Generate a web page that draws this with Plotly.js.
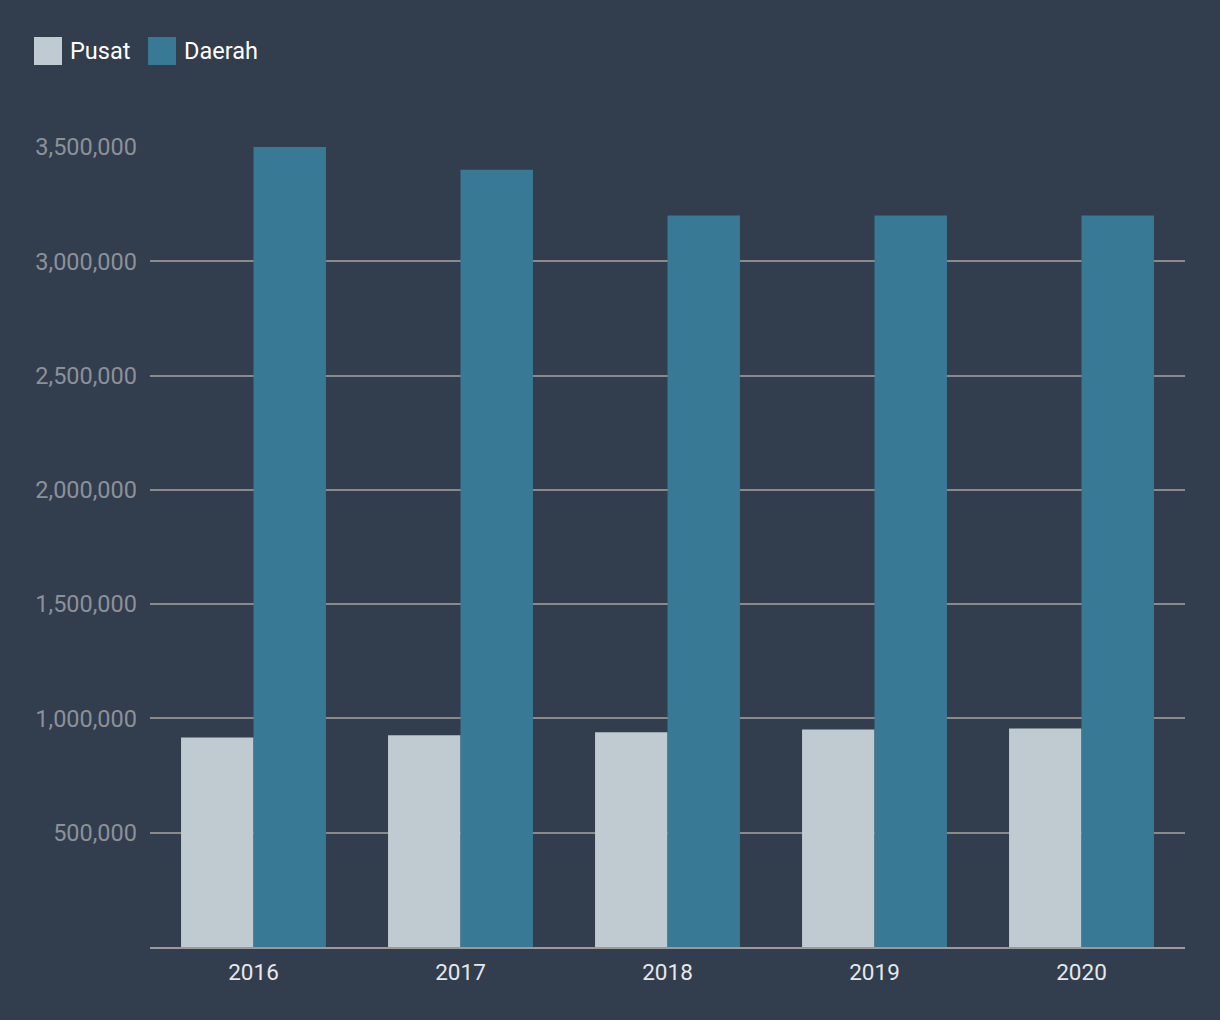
<!DOCTYPE html>
<html>
<head>
<meta charset="utf-8">
<script src="https://cdn.plot.ly/plotly-3.0.1.min.js"></script>
<style>
  html, body { margin: 0; padding: 0; background: #323d4e; }
  #chart { width: 1220px; height: 1020px; }
</style>
</head>
<body>
<div id="chart"></div>
<script>
const years = ['2016', '2017', '2018', '2019', '2020'];
const pusat = [917000, 926000, 939000, 952000, 956000];
const daerah = [3500000, 3400000, 3200000, 3200000, 3200000];
const seriesNames = ['Pusat', 'Daerah'];
const seriesColors = ['#bfcbd0', '#387a95'];
const yTicks = [500000, 1000000, 1500000, 2000000, 2500000, 3000000, 3500000];

const traces = [
  { type: 'bar', name: seriesNames[0], x: years, y: pusat, marker: { color: seriesColors[0] }, showlegend: false, hoverinfo: 'x+y+name' },
  { type: 'bar', name: seriesNames[1], x: years, y: daerah, marker: { color: seriesColors[1] }, showlegend: false, hoverinfo: 'x+y+name' }
];

const layout = {
  width: 1220,
  height: 1020,
  paper_bgcolor: '#323d4e',
  plot_bgcolor: '#323d4e',
  font: { family: 'Roboto, sans-serif', size: 22, color: '#ffffff' },
  margin: { l: 150, r: 35, t: 147, b: 73 },
  barmode: 'group',
  bargap: 0.3,
  bargroupgap: 0,
  xaxis: {
    type: 'category',
    tickfont: { size: 22.5, color: '#e6e8ea' },
    showgrid: false,
    showline: true,
    linecolor: '#9a9a9a',
    linewidth: 2,
    ticks: '',
    ticklen: 0,
    ticklabelstandoff: 4,
    fixedrange: true
  },
  yaxis: {
    range: [0, 3500000],
    tickvals: yTicks,
    tickformat: ',d',
    tickfont: { size: 23.5, color: '#8c9199' },
    showgrid: true,
    gridcolor: '#8a8a8a',
    gridwidth: 1.5,
    zeroline: false,
    showline: false,
    ticks: '',
    ticklabelstandoff: 12,
    fixedrange: true
  },
  shapes: [
    { type: 'rect', xref: 'paper', yref: 'paper', x0: -0.1121, x1: -0.0850, y0: 1.1025, y1: 1.1375, fillcolor: seriesColors[0], line: { width: 0 } },
    { type: 'rect', xref: 'paper', yref: 'paper', x0: -0.0019, x1: 0.0251, y0: 1.1025, y1: 1.1375, fillcolor: seriesColors[1], line: { width: 0 } }
  ],
  annotations: [
    { xref: 'paper', yref: 'paper', x: -0.0795, y: 1.12, xanchor: 'left', yanchor: 'middle', text: seriesNames[0], showarrow: false, font: { size: 23.5, color: '#ffffff' } },
    { xref: 'paper', yref: 'paper', x: 0.0309, y: 1.12, xanchor: 'left', yanchor: 'middle', text: seriesNames[1], showarrow: false, font: { size: 23.5, color: '#ffffff' } }
  ]
};

Plotly.newPlot('chart', traces, layout, { displayModeBar: false, responsive: false });
</script>
</body>
</html>
